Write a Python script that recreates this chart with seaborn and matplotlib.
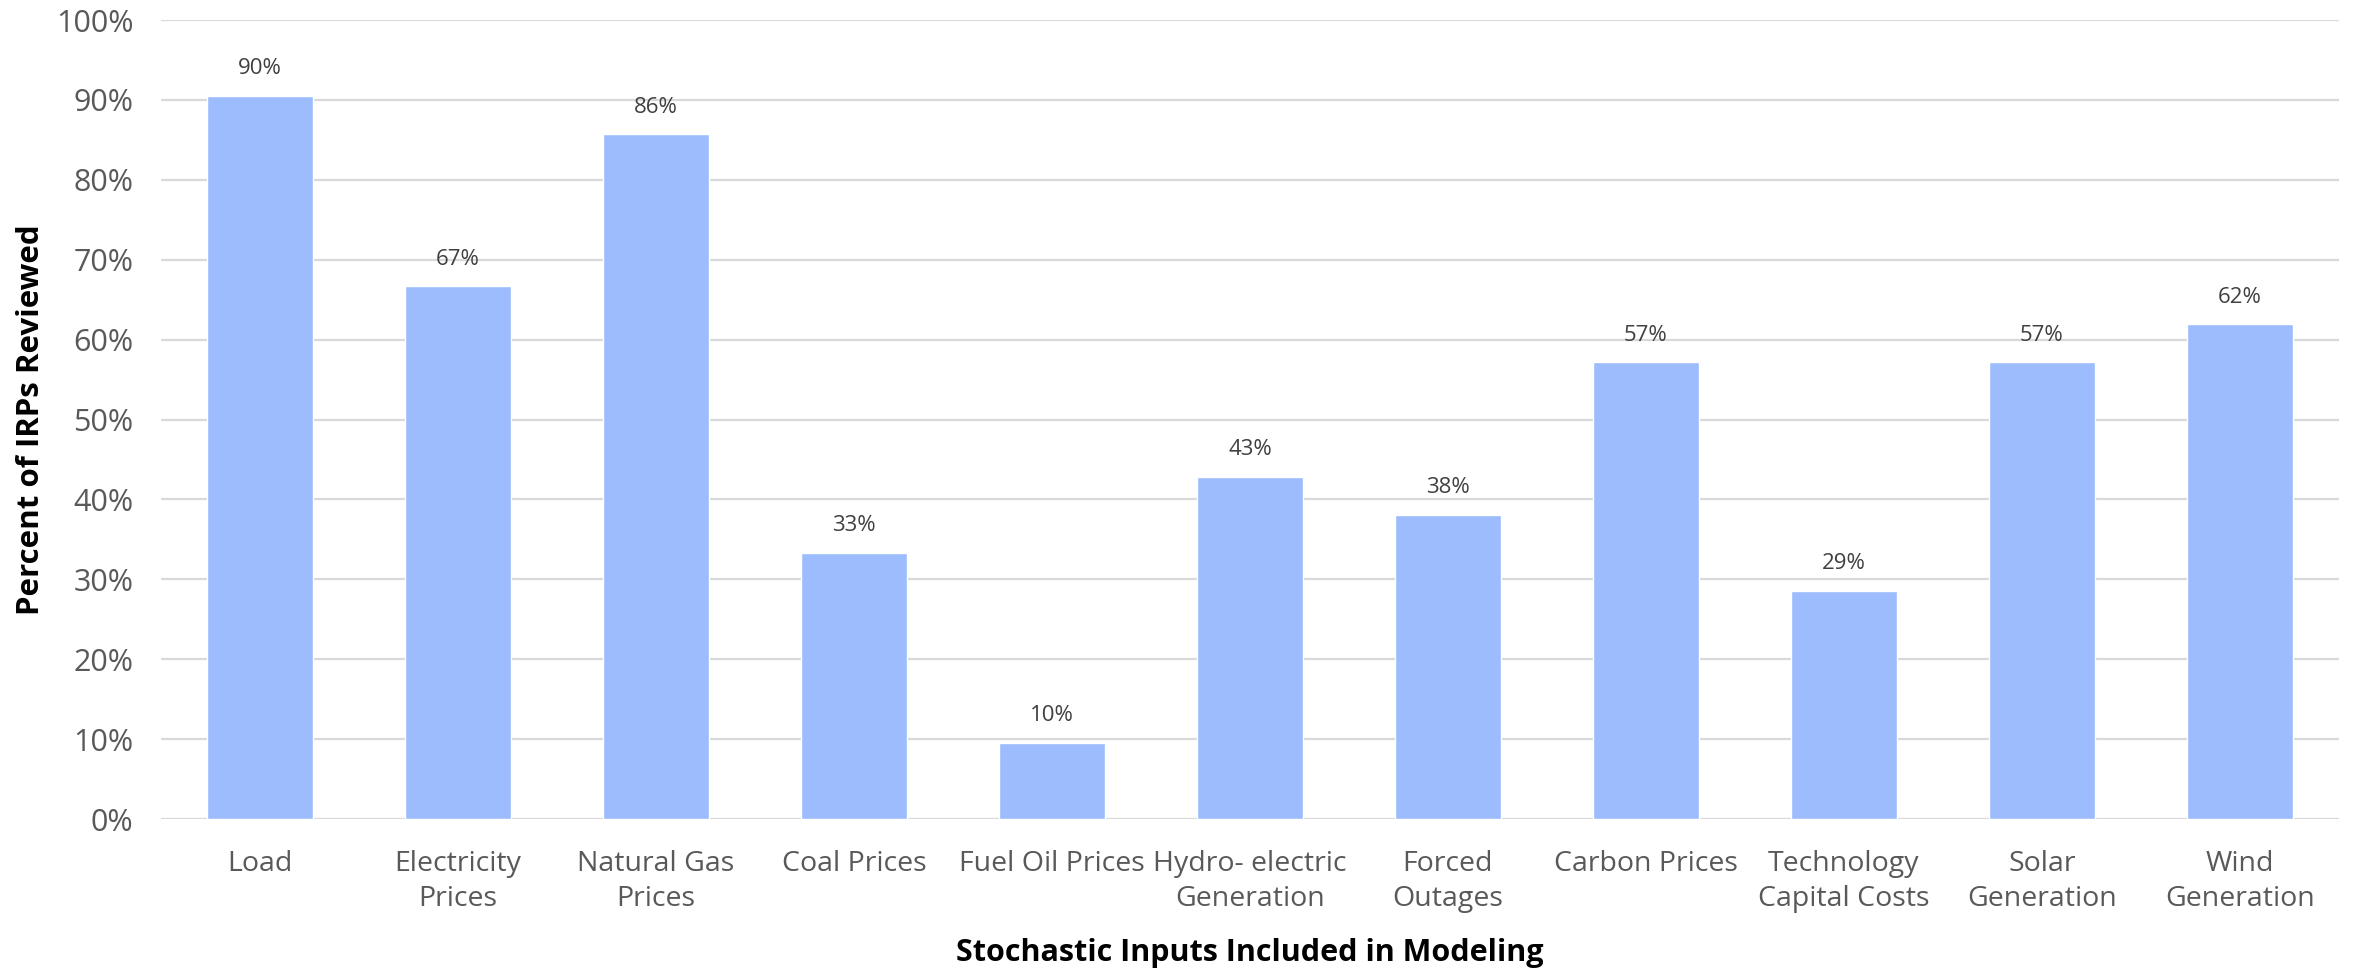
import matplotlib
matplotlib.use("Agg")
import matplotlib.pyplot as plt
import seaborn as sns
import pandas as pd
from matplotlib.ticker import PercentFormatter, MultipleLocator

# Share of reviewed IRPs that treat each input stochastically
categories = [
    "Load",
    "Electricity\nPrices",
    "Natural Gas\nPrices",
    "Coal Prices",
    "Fuel Oil Prices",
    "Hydro- electric\nGeneration",
    "Forced\nOutages",
    "Carbon Prices",
    "Technology\nCapital Costs",
    "Solar\nGeneration",
    "Wind\nGeneration",
]
shares = [0.9048, 0.6667, 0.8571, 0.3333, 0.0952, 0.4286, 0.3810,
          0.5714, 0.2857, 0.5714, 0.6190]

df = pd.DataFrame({"input": categories, "share": shares})

sns.set_theme(style="white")
plt.rcParams["font.family"] = ["Open Sans", "DejaVu Sans"]

fig = plt.figure(figsize=(23.54, 9.68), dpi=100)
ax = fig.add_axes([0.0684, 0.1539, 0.9252, 0.8254])

sns.barplot(data=df, x="input", y="share", color="#9dbcfd", saturation=1,
            width=0.535, ax=ax, zorder=3)

ax.set_ylim(0, 1)
ax.set_xlim(-0.5, len(categories) - 0.5)
ax.yaxis.set_major_locator(MultipleLocator(0.1))
ax.yaxis.set_major_formatter(PercentFormatter(1.0, decimals=0))
ax.grid(axis="y", color="#d9d9d9", linewidth=1.6, zorder=0)
ax.grid(axis="x", visible=False)
for s in ax.spines.values():
    s.set_visible(False)

ax.tick_params(axis="y", length=0, pad=20, labelsize=22, labelcolor="#595959")
ax.tick_params(axis="x", length=0, pad=22, labelsize=20.5, labelcolor="#595959")
for lbl in ax.get_xticklabels():
    lbl.set_linespacing(1.35)

ax.bar_label(ax.containers[0], labels=[f"{v:.0%}" for v in shares],
             padding=12, fontsize=16, color="#404040")

ax.set_xlabel("Stochastic Inputs Included in Modeling", fontsize=22,
              fontweight="bold", color="black", labelpad=18)
ax.set_ylabel("Percent of IRPs Reviewed", fontsize=22.5, fontweight="bold",
              color="black", labelpad=7)

fig.savefig("out.png", dpi=100)
